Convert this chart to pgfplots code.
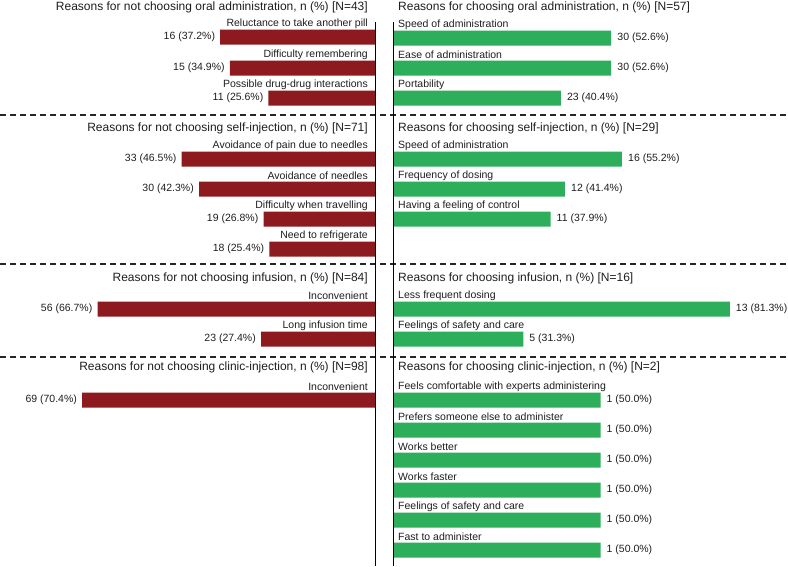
\documentclass[border=0pt]{standalone}
\usepackage{pgfplots}
\pgfplotsset{compat=1.18}
\usepackage{pgfplotstable}
\usepackage{fontspec}
\setmainfont{Liberation Sans}
\definecolor{barred}{RGB}{140,26,30}
\definecolor{bargreen}{RGB}{44,174,90}
\definecolor{txt}{RGB}{30,30,30}
\newcommand\labfont{\fontsize{10.5}{12}\selectfont}
\newcommand\titfont{\fontsize{12}{14}\selectfont}

\pgfplotstableread[col sep=semicolon,row sep=\\]{
y;p;lab;cat\\
37;37.2;16 (37.2\%);Reluctance to take another pill\\
68;34.9;15 (34.9\%);Difficulty remembering\\
98;25.6;11 (25.6\%);Possible drug-drug interactions\\
159;46.5;33 (46.5\%);Avoidance of pain due to needles\\
189;42.3;30 (42.3\%);Avoidance of needles\\
219;26.8;19 (26.8\%);Difficulty when travelling\\
249;25.4;18 (25.4\%);Need to refrigerate\\
309;66.7;56 (66.7\%);Inconvenient\\
339;27.4;23 (27.4\%);Long infusion time\\
400;70.4;69 (70.4\%);Inconvenient\\
}\leftdata

\pgfplotstableread[col sep=semicolon,row sep=\\]{
y;p;lab;cat\\
38;52.6;30 (52.6\%);Speed of administration\\
68;52.6;30 (52.6\%);Ease of administration\\
98;40.4;23 (40.4\%);Portability\\
159;55.2;16 (55.2\%);Speed of administration\\
189;41.4;12 (41.4\%);Frequency of dosing\\
219;37.9;11 (37.9\%);Having a feeling of control\\
309;81.3;13 (81.3\%);Less frequent dosing\\
339;31.3;5 (31.3\%);Feelings of safety and care\\
400;50.0;1 (50.0\%);Feels comfortable with experts administering\\
430;50.0;1 (50.0\%);Prefers someone else to administer\\
460;50.0;1 (50.0\%);Works better\\
490;50.0;1 (50.0\%);Works faster\\
520;50.0;1 (50.0\%);Feelings of safety and care\\
550;50.0;1 (50.0\%);Fast to administer\\
}\rightdata

\pgfplotsset{half/.style={scale only axis, height=566pt, ymin=0, ymax=566,
  y dir=reverse, hide axis, clip=false, anchor=south west}}

\begin{document}
\begin{tikzpicture}
\useasboundingbox (0,0) rectangle (788pt,566pt);
% left half
\begin{axis}[half, at={(0pt,0pt)}, width=375pt, xmin=-90.14, xmax=0]
\addplot[xbar, bar width=15pt, fill=barred, draw=none,
  nodes near coords, point meta=explicit symbolic,
  every node near coord/.style={anchor=east, inner sep=0pt, xshift=-5pt, font=\labfont, text=txt}]
  table[x expr=-\thisrow{p}, y=y, meta=lab]{\leftdata};
\addplot[only marks, mark=none,
  nodes near coords, point meta=explicit symbolic,
  every node near coord/.style={anchor=east, inner sep=0pt, xshift=-7pt, font=\labfont, text=txt}]
  table[x expr=0, y expr=\thisrow{y}-13.5, meta=cat]{\leftdata};
\node[anchor=east, inner sep=0pt, xshift=-7pt, font=\titfont, text=txt] at (axis cs:0,7) {Reasons for not choosing oral administration, n (\%) [N=43]};
\node[anchor=east, inner sep=0pt, xshift=-7pt, font=\titfont, text=txt] at (axis cs:0,128) {Reasons for not choosing self-injection, n (\%) [N=71]};
\node[anchor=east, inner sep=0pt, xshift=-7pt, font=\titfont, text=txt] at (axis cs:0,278) {Reasons for not choosing infusion, n (\%) [N=84]};
\node[anchor=east, inner sep=0pt, xshift=-7pt, font=\titfont, text=txt] at (axis cs:0,367) {Reasons for not choosing clinic-injection, n (\%) [N=98]};
\end{axis}
% right half
\begin{axis}[half, at={(394pt,0pt)}, width=394pt, xmin=0, xmax=95.4]
\addplot[xbar, bar width=15pt, fill=bargreen, draw=none,
  nodes near coords, point meta=explicit symbolic,
  every node near coord/.style={anchor=west, inner sep=0pt, xshift=6pt, font=\labfont, text=txt}]
  table[x=p, y=y, meta=lab]{\rightdata};
\addplot[only marks, mark=none,
  nodes near coords, point meta=explicit symbolic,
  every node near coord/.style={anchor=west, inner sep=0pt, xshift=4pt, font=\labfont, text=txt}]
  table[x expr=0, y expr=\thisrow{y}-13.5, meta=cat]{\rightdata};
\node[anchor=west, inner sep=0pt, xshift=4pt, font=\titfont, text=txt] at (axis cs:0,7) {Reasons for choosing oral administration, n (\%) [N=57]};
\node[anchor=west, inner sep=0pt, xshift=4pt, font=\titfont, text=txt] at (axis cs:0,128) {Reasons for choosing self-injection, n (\%) [N=29]};
\node[anchor=west, inner sep=0pt, xshift=4pt, font=\titfont, text=txt] at (axis cs:0,278) {Reasons for choosing infusion, n (\%) [N=16]};
\node[anchor=west, inner sep=0pt, xshift=4pt, font=\titfont, text=txt] at (axis cs:0,367) {Reasons for choosing clinic-injection, n (\%) [N=2]};
\end{axis}
% separators
\foreach \yy in {115,264,357}{
  \draw[black!85, line width=1.3pt, dash pattern=on 6pt off 4pt] (0pt,566pt-\yy pt) -- (788pt,566pt-\yy pt);
}
\draw[black, line width=1pt] (375pt,544pt) -- (375pt,0pt);
\draw[black, line width=1pt] (393.5pt,544pt) -- (393.5pt,0pt);
\end{tikzpicture}
\end{document}
